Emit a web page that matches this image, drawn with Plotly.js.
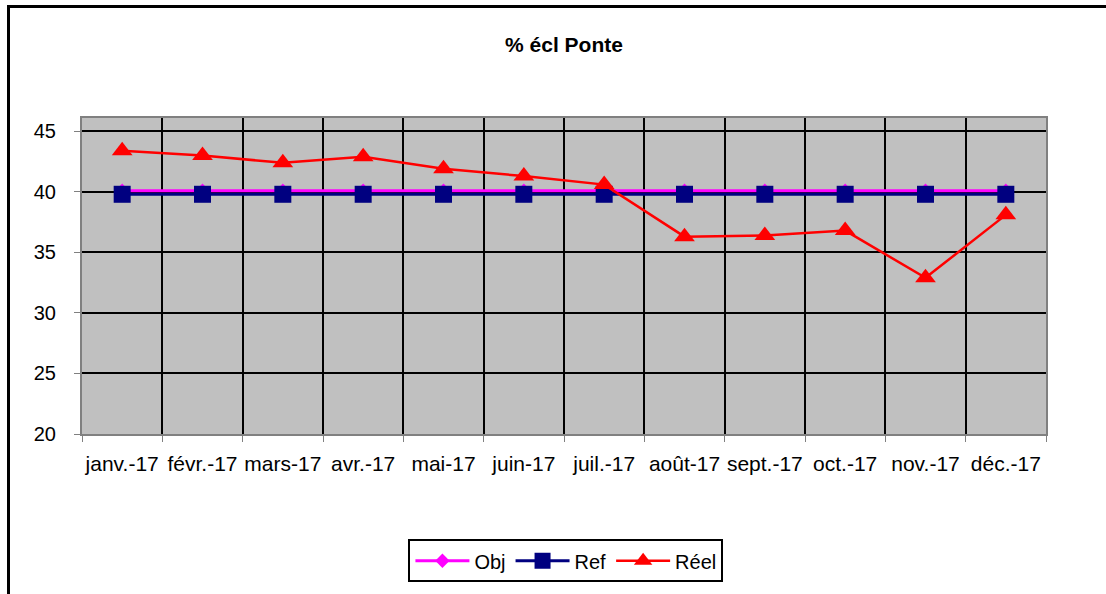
<!DOCTYPE html>
<html>
<head>
<meta charset="utf-8">
<script src="https://cdn.plot.ly/plotly-3.0.1.min.js"></script>
<style>
  html, body { margin: 0; padding: 0; background: #fff; }
  #wrap { position: relative; width: 1106px; height: 594px; overflow: hidden; }
  #chart { width: 1106px; height: 594px; }
  #frame { position: absolute; left: 7px; top: 5px; width: 1200px; height: 700px;
           border-left: 3px solid #000; border-top: 3px solid #000; pointer-events: none; }
</style>
</head>
<body>
<div id="wrap">
  <div id="chart"></div>
  <div id="frame"></div>
</div>
<script>
const months = ["janv.-17", "févr.-17", "mars-17", "avr.-17", "mai-17", "juin-17",
                "juil.-17", "août-17", "sept.-17", "oct.-17", "nov.-17", "déc.-17"];
const objValues  = [40.1, 40.1, 40.1, 40.1, 40.1, 40.1, 40.1, 40.1, 40.1, 40.1, 40.1, 40.1];
const refValues  = [39.8, 39.8, 39.8, 39.8, 39.8, 39.8, 39.8, 39.8, 39.8, 39.8, 39.8, 39.8];
const reelValues = [43.4, 43.0, 42.4, 42.9, 41.9, 41.3, 40.6, 36.3, 36.4, 36.8, 32.9, 38.1];
const yTicks = [20, 25, 30, 35, 40, 45];

const font = "Arial, 'Liberation Sans', sans-serif";

const traces = [
  { x: months, y: objValues, name: "Obj", type: "scatter", mode: "lines+markers",
    line: { color: "#ff00ff", width: 3 },
    marker: { symbol: "diamond", size: 11, color: "#ff00ff" } },
  { x: months, y: refValues, name: "Ref", type: "scatter", mode: "lines+markers",
    line: { color: "#000080", width: 3 },
    marker: { symbol: "square", size: 17, color: "#000080" } },
  { x: months, y: reelValues, name: "Réel", type: "scatter", mode: "lines+markers",
    line: { color: "#ff0000", width: 2.5 },
    marker: { symbol: "triangle-up", size: 18, color: "#ff0000" } }
];

const layout = {
  width: 1106, height: 594,
  margin: { l: 82, r: 60, t: 118, b: 160 },
  paper_bgcolor: "#ffffff",
  plot_bgcolor: "#c0c0c0",
  font: { family: font, color: "#000", size: 19 },
  title: { text: "<b>% écl Ponte</b>", font: { family: font, size: 21, color: "#000" },
           x: 0.5, xref: "paper", y: 1 - 45/594, yref: "container", yanchor: "middle" },
  showlegend: true,
  legend: {
    orientation: "h", x: 0.502, xanchor: "center", y: -0.333, yanchor: "top",
    bordercolor: "#000", borderwidth: 2, bgcolor: "#fff",
    itemwidth: 54,
    font: { family: font, size: 20, color: "#000" }
  },
  xaxis: {
    type: "category",
    range: [-0.5, 11.5],
    tickson: "boundaries",
    tickangle: 0,
    showgrid: true, gridcolor: "#000", gridwidth: 2,
    showline: true, linecolor: "#808080", linewidth: 2, mirror: true,
    ticks: "outside", ticklen: 6, tickcolor: "#808080", tickwidth: 1,
    ticklabelstandoff: 10,
    tickfont: { family: font, size: 21, color: "#000" },
    fixedrange: true
  },
  yaxis: {
    range: [20, 46.1],
    tickvals: yTicks,
    ticktext: yTicks.map(String),
    showgrid: true, gridcolor: "#000", gridwidth: 2,
    zeroline: false,
    showline: true, linecolor: "#808080", linewidth: 2, mirror: true,
    ticks: "outside", ticklen: 6, tickcolor: "#808080", tickwidth: 1,
    ticklabelstandoff: 14,
    tickfont: { family: font, size: 20, color: "#000" },
    fixedrange: true
  }
};

Plotly.newPlot("chart", traces, layout, { displayModeBar: false, staticPlot: true });
</script>
</body>
</html>
